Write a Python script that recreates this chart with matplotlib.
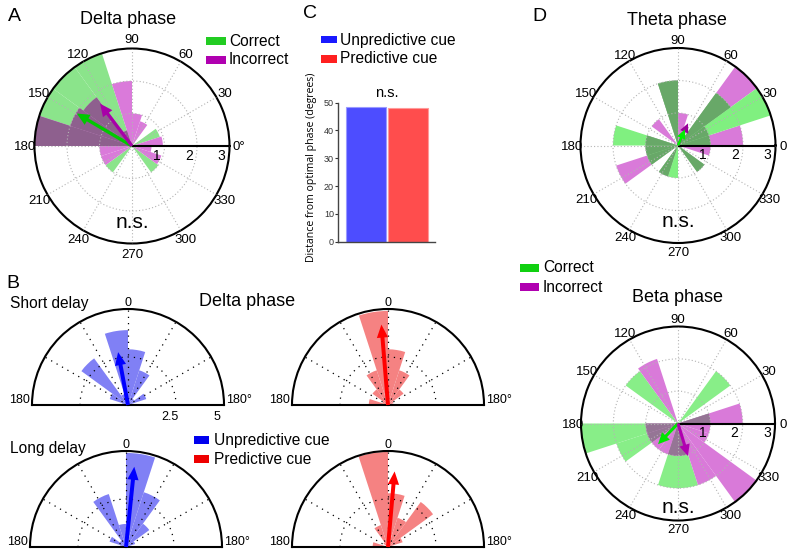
import numpy as np
import matplotlib
matplotlib.use("Agg")
import matplotlib.pyplot as plt
import matplotlib.transforms as mtransforms
from matplotlib.patches import Rectangle

plt.rcParams['font.family'] = ['Liberation Sans', 'DejaVu Sans']

# ---------------- data ----------------
# Rose histograms: 20 bins of 18 degrees (bin centres in degrees)
rose_centers = np.arange(9, 360, 18)

# Panel A: delta phase
delta_correct   = [0, 0.9, 0, 0, 0, 0, 3.0, 3.0, 3.0, 3.0, 0, 0, 1.0, 0, 0, 0, 0, 1.0, 0, 0]
delta_incorrect = [0.95, 0, 0, 0.8, 1.0, 2.0, 0.5, 1.85, 2.0, 3.0, 1.0, 1.0, 0, 0, 0, 0, 0, 0, 0.95, 0.6]
delta_mean_angle = [149.5, 127.0]   # correct, incorrect (deg)
delta_mean_len = [1.97, 1.63]

# Panel D: theta phase
theta_correct   = [1.0, 3.0, 2.0, 0, 0, 2.0, 0, 0, 0, 2.0, 1.0, 1.0, 0, 1.0, 1.0, 0, 0, 1.0, 0, 0]
theta_incorrect = [2.0, 1.0, 3.0, 0, 1.0, 2.0, 0, 1.0, 0, 1.0, 1.0, 2.0, 0, 1.0, 0, 0, 0, 1.0, 0, 1.0]
theta_mean_angle = [67.0, 65.6]
theta_mean_len = [0.54, 0.75]

# Panel D: beta phase
beta_correct   = [1.0, 0, 2.0, 0, 0, 0, 0, 2.0, 0, 0, 3.0, 2.0, 0, 0, 2.0, 2.0, 0, 0, 0, 0]
beta_incorrect = [2.0, 0, 0, 0, 0, 0, 2.1, 0, 0, 0, 1.0, 1.0, 1.0, 1.0, 1.0, 1.0, 2.0, 3.0, 1.0, 1.0]
beta_mean_angle = [226.0, 287.0]
beta_mean_len = [0.89, 1.05]

# Panel B: half-polar roses (display angle, 0 at top, negative = left), 10 bins
half_centers = np.arange(-81, 90, 18)
short_unpred = [0.3, 1.0, 3.0, 0.6, 3.9, 2.9, 1.9, 0.4, 1.0, 0.0]
short_pred   = [1.0, 0.3, 1.0, 1.9, 4.9, 2.9, 1.9, 1.0, 0.3, 0.0]
long_unpred  = [0.3, 0.9, 0.4, 2.9, 1.2, 4.9, 3.0, 1.5, 0.5, 0.0]
long_pred    = [0.8, 0.0, 0.3, 1.2, 4.95, 2.8, 1.6, 2.9, 0.8, 0.0]
half_mean_angle = [-10.6, -4.7, 5.9, 5.0]   # short unpred, short pred, long unpred, long pred
half_mean_len = [2.8, 4.2, 4.2, 3.95]

# Panel C
cue_labels = ['Unpredictive cue', 'Predictive cue']
cue_distance = [48.6, 48.0]
c_yticks = [0, 10, 20, 30, 40, 50]

polar_angle_ticks = list(range(0, 360, 30))
ring_ticks = [1, 2, 3]
half_ring_labels = ['2.5', '5']
outcome_labels = ['Correct', 'Incorrect']

# ---------------- figure ----------------
W, H = 788, 552
fig = plt.figure(figsize=(W / 100, H / 100), dpi=100)


def rect_px(l, t, r, b):
    return [l / W, 1 - b / H, (r - l) / W, (b - t) / H]


def ftext(x, y, s, **kw):
    kw.setdefault('va', 'baseline')
    return fig.text(x / W, 1 - y / H, s, **kw)


def fpatch(l, t, r, b, color):
    fig.add_artist(Rectangle((l / W, 1 - b / H), (r - l) / W, (b - t) / H,
                             transform=fig.transFigure, facecolor=color,
                             edgecolor='none'))


def add_arrow(ax, ang, ln, col, ms, hl, hw, tw):
    ax.annotate('', xy=(np.deg2rad(ang), ln), xytext=(0, 0),
                xycoords='data', textcoords='data',
                arrowprops=dict(arrowstyle=f'simple,head_length={hl},head_width={hw},tail_width={tw}',
                                facecolor=col, edgecolor='none', shrinkA=0, shrinkB=0,
                                mutation_scale=ms),
                zorder=5)


def full_rose(cx, cy, R, a_vals, b_vals, col_a, col_b, col_ab, mean_ang, mean_len,
              arrow_cols, zero_label, label_r, ms, over_first='a'):
    ax = fig.add_axes(rect_px(cx - R, cy - R, cx + R, cy + R), projection='polar')
    ax.set_theta_zero_location('E')
    ax.set_theta_direction(1)
    th = np.deg2rad(rose_centers)
    w = np.deg2rad(18)
    a = np.asarray(a_vals, float)
    b = np.asarray(b_vals, float)
    ax.bar(th, a, width=w, color=col_a, linewidth=0, zorder=1)
    ax.bar(th, b, width=w, color=col_b, linewidth=0, zorder=1)
    ax.bar(th, np.minimum(a, b), width=w, color=col_ab, linewidth=0, zorder=1.2)
    ax.set_ylim(0, 3)
    ax.set_rgrids([1, 2], labels=['', ''])
    ax.set_thetagrids(polar_angle_ticks, labels=[''] * len(polar_angle_ticks))
    ax.tick_params(length=0)
    ax.grid(True, color='#b4b4b4', linestyle=(0, (1, 2)), linewidth=0.8)
    ax.set_axisbelow(False)
    ax.spines['polar'].set_color('k')
    ax.spines['polar'].set_linewidth(1.5)
    ax.plot([0, 0], [0, 3], color='k', lw=1.5, zorder=3, solid_capstyle='butt')
    order = [0, 1] if over_first == 'a' else [1, 0]
    for i in order:
        add_arrow(ax, mean_ang[i], mean_len[i], arrow_cols[i], ms, 0.75, 0.7, 0.2)
    for ang in polar_angle_ticks:
        s = zero_label if ang == 0 else str(ang)
        ax.text(np.deg2rad(ang), label_r, s, ha='center', va='center_baseline', fontsize=9.5)
    off = mtransforms.offset_copy(ax.transData, fig=fig, x=-8, y=-8, units='dots')
    for r in ring_ticks:
        ax.text(0, r, str(r), transform=off, ha='center', va='center_baseline', fontsize=10)
    return ax


def half_rose(cx, base, R, vals, col_bar, ang, ln, col_arrow):
    ax = fig.add_axes(rect_px(cx - R, base - 1.5 * R, cx + R, base + 0.5 * R), projection='polar')
    ax.set_theta_zero_location('N')
    ax.set_theta_direction(-1)
    ax.set_thetamin(-90)
    ax.set_thetamax(90)
    ax.bar(np.deg2rad(half_centers), vals, width=np.deg2rad(18), color=col_bar,
           linewidth=0, zorder=1)
    ax.set_ylim(0, 5)
    ax.set_rgrids([2.5], labels=[''])
    ax.set_thetagrids([-60, -30, 0, 30, 60], labels=[''] * 5)
    ax.tick_params(length=0)
    ax.grid(True, color='k', linestyle=(0, (1, 4)), linewidth=0.9)
    ax.set_axisbelow(False)
    for s in ('polar', 'start', 'end'):
        ax.spines[s].set_color('k')
        ax.spines[s].set_linewidth(1.5)
    ax.spines['inner'].set_visible(False)
    add_arrow(ax, ang, ln, col_arrow, 13, 0.72, 0.62, 0.22)
    # angle labels
    ftext(cx, base - 99, '0', ha='center', fontsize=9)
    ftext(cx - 108, base - 2, '180', ha='center', fontsize=9)
    ftext(cx + 111, base - 2, '180°', ha='center', fontsize=9)
    return ax


# ---- Panel A ----
full_rose(132, 146, 97.5, delta_correct, delta_incorrect,
          '#8be48b', '#da7ada', '#8e608e', delta_mean_angle, delta_mean_len,
          ['#00c800', '#a800a8'], '0°', 3.3, 12)
ftext(8, 21, 'A', fontsize=14)
ftext(128.5, 24.5, 'Delta phase', ha='center', fontsize=13)
fpatch(206, 36.7, 226, 45, '#22cc22')
fpatch(206, 56, 226, 64.3, '#b000b0')
ftext(229, 45.5, outcome_labels[0], fontsize=11.2)
ftext(229, 64.5, outcome_labels[1], fontsize=11.2)
ftext(132, 228, 'n.s.', ha='center', fontsize=15)

# ---- Panel D ----
full_rose(678, 145.5, 97.5, theta_incorrect, theta_correct,
          '#d97ad9', '#80f080', '#68a868', theta_mean_angle[::-1], theta_mean_len[::-1],
          ['#990099', '#00f000'], '0', 3.25, 9)
full_rose(678, 423.5, 97, beta_correct, beta_incorrect,
          '#88ee88', '#d97ad9', '#957595', beta_mean_angle, beta_mean_len,
          ['#00e600', '#b000b0'], '0', 3.25, 11)
ftext(532, 21, 'D', fontsize=14)
ftext(677, 25, 'Theta phase', ha='center', fontsize=13)
ftext(677, 301.5, 'Beta phase', ha='center', fontsize=13)
ftext(678, 226.7, 'n.s.', ha='center', fontsize=15)
ftext(678, 513, 'n.s.', ha='center', fontsize=15)
fpatch(520, 264, 539, 272, '#10d010')
fpatch(520, 283, 539, 291, '#b000b0')
ftext(543, 272.5, outcome_labels[0], fontsize=11.2)
ftext(543, 291.5, outcome_labels[1], fontsize=11.2)

# ---- Panel B ----
half_rose(128, 405, 96, short_unpred, '#8080f5', half_mean_angle[0], half_mean_len[0], '#0000ff')
half_rose(388, 405, 96, short_pred, '#f58282', half_mean_angle[1], half_mean_len[1], '#ff0000')
half_rose(126, 547, 96, long_unpred, '#8080f5', half_mean_angle[2], half_mean_len[2], '#0000ff')
half_rose(388, 547, 96, long_pred, '#f58282', half_mean_angle[3], half_mean_len[3], '#ff0000')
ftext(170, 420, half_ring_labels[0], ha='center', fontsize=9)
ftext(217, 420, half_ring_labels[1], ha='center', fontsize=9)
ftext(6.5, 287.5, 'B', fontsize=14)
ftext(247, 306, 'Delta phase', ha='center', fontsize=13)
ftext(10, 308, 'Short delay', fontsize=11.2)
ftext(10, 453, 'Long delay', fontsize=11.2)
fpatch(193.5, 436, 208.5, 444, '#0000ee')
fpatch(193.5, 455, 208.5, 463, '#ee0000')
ftext(213.6, 445.5, cue_labels[0], fontsize=11.2)
ftext(213.6, 464, cue_labels[1], fontsize=11.2)

# ---- Panel C ----
axc = fig.add_axes(rect_px(338, 102.7, 435, 241.7))
axc.set_facecolor('none')
axc.bar([1, 2], cue_distance, width=0.96, color=['#4d4dff', '#ff4d4d'],
        edgecolor=['#9a9aff', '#ff9a9a'], linewidth=0.8)
axc.set_xlim(0.32, 2.65)
axc.set_ylim(0, 50)
axc.set_yticks(c_yticks)
axc.set_yticklabels([str(v) for v in c_yticks], fontsize=6.5, color='#333333')
axc.set_xticks([])
axc.tick_params(axis='y', length=2, width=0.8, pad=1, colors='#333333')
for s in ('top', 'right'):
    axc.spines[s].set_visible(False)
for s in ('left', 'bottom'):
    axc.spines[s].set_color('#444444')
    axc.spines[s].set_linewidth(1)
ftext(303, 18.5, 'C', fontsize=14)
fpatch(320.7, 36, 337.3, 43.3, '#1a1aff')
fpatch(320.7, 55.3, 337.3, 62.7, '#ff2020')
ftext(340, 45, cue_labels[0], fontsize=11.2)
ftext(340, 63.3, cue_labels[1], fontsize=11.2)
ftext(387, 96.7, 'n.s.', ha='center', fontsize=10.5)
fig.text(311.5 / W, 1 - 167.5 / H, 'Distance from optimal phase (degrees)',
         rotation=90, ha='center', va='center', fontsize=7.6,
         family=['Open Sans', 'DejaVu Sans'])

fig.savefig('out.png', dpi=100)
